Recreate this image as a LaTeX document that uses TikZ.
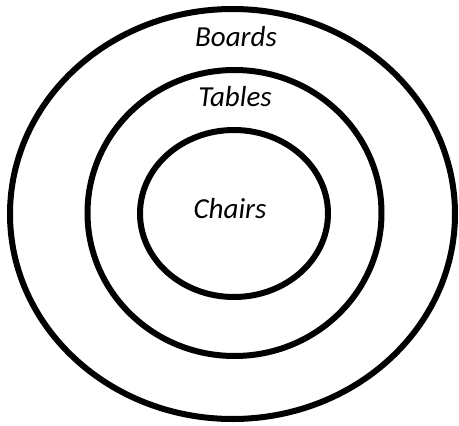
\documentclass[tikz,border=0pt]{standalone}
\usepackage{fontspec}
\setmainfont{Carlito}
\usetikzlibrary{positioning}
\tikzset{
  ring/.style={draw=black,line width=6pt},
  tag/.style={anchor=base,inner sep=0pt,font=\fontsize{29}{32}\selectfont\itshape}
}

\begin{document}
\begin{tikzpicture}[x=1pt,y=-1pt]
  \useasboundingbox (0,0) rectangle (459,426);
  \draw[ring] (232.5,214) ellipse [x radius=222.5,y radius=205];
  \draw[ring] (234.5,213) ellipse [x radius=147,y radius=143];
  \draw[ring] (234,213.5) ellipse [x radius=94,y radius=83.5];
  \node[tag] (boards) at (236,46) {Boards};
  \node[tag] (tables) at (235,106) {Tables};
  \node[tag] (chairs) at (230,218) {Chairs};
\end{tikzpicture}
\end{document}
